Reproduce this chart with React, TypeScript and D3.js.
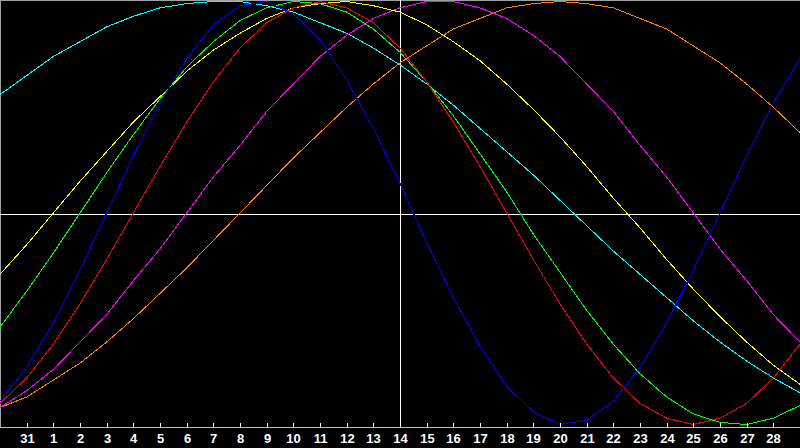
import * as d3 from 'd3';

// ─── Data (one point per day, value −1…1) ───────────────────

const dayLabels = ['31', '1', '2', '3', '4', '5', '6', '7', '8', '9', '10', '11', '12', '13', '14',
  '15', '16', '17', '18', '19', '20', '21', '22', '23', '24', '25', '26', '27', '28'];

const physical = [-0.89, -0.73, -0.52, -0.27, 0.00, 0.27, 0.52, 0.73, 0.89, 0.98, 1.00, 0.94, 0.82, 0.63, 0.40, 0.14,
  -0.14, -0.40, -0.63, -0.82, -0.94, -1.00, -0.98, -0.89, -0.73, -0.52, -0.27, 0.00, 0.27, 0.52, 0.73];
const emotional = [-0.90, -0.78, -0.62, -0.43, -0.22, 0.00, 0.22, 0.43, 0.62, 0.78, 0.90, 0.97, 1.00, 0.97, 0.90, 0.78,
  0.62, 0.43, 0.22, 0.00, -0.22, -0.43, -0.62, -0.78, -0.90, -0.97, -1.00, -0.97, -0.90, -0.78, -0.62];
const intellectual = [-0.54, -0.37, -0.19, 0.00, 0.19, 0.37, 0.54, 0.69, 0.81, 0.91, 0.97, 1.00, 0.99, 0.95, 0.87, 0.76,
  0.62, 0.46, 0.28, 0.10, -0.10, -0.28, -0.46, -0.62, -0.76, -0.87, -0.95, -0.99, -1.00, -0.97, -0.91];
const spiritual = [0.56, 0.65, 0.74, 0.81, 0.88, 0.93, 0.97, 0.99, 1.00, 1.00, 0.98, 0.95, 0.90, 0.85, 0.78, 0.70,
  0.61, 0.51, 0.40, 0.29, 0.18, 0.06, -0.06, -0.18, -0.29, -0.40, -0.51, -0.61, -0.70, -0.78, -0.85];
const aesthetic = [-0.29, -0.15, 0.00, 0.15, 0.29, 0.43, 0.55, 0.67, 0.77, 0.85, 0.92, 0.97, 0.99, 1.00, 0.98, 0.95,
  0.89, 0.81, 0.72, 0.61, 0.49, 0.36, 0.22, 0.07, -0.07, -0.22, -0.36, -0.49, -0.61, -0.72, -0.81];
const intuitive = [-0.92, -0.84, -0.74, -0.61, -0.48, -0.32, -0.17, 0.00, 0.17, 0.32, 0.48, 0.61, 0.74, 0.84, 0.92, 0.97,
  1.00, 1.00, 0.97, 0.92, 0.84, 0.74, 0.61, 0.48, 0.32, 0.17, 0.00, -0.17, -0.32, -0.48, -0.61];
const awareness = [-0.92, -0.87, -0.79, -0.71, -0.61, -0.50, -0.38, -0.26, -0.13, 0.00, 0.13, 0.26, 0.38, 0.50, 0.61, 0.71,
  0.79, 0.87, 0.92, 0.97, 0.99, 1.00, 0.99, 0.97, 0.92, 0.87, 0.79, 0.71, 0.61, 0.50, 0.38];

const todayIndex = 15; // day 14

// drawing order: back to front
const series = [
  { name: 'spiritual', values: spiritual, color: '#00ffff' },
  { name: 'awareness', values: awareness, color: '#ff8000' },
  { name: 'intuitive', values: intuitive, color: '#ff00ff' },
  { name: 'aesthetic', values: aesthetic, color: '#ffff00' },
  { name: 'intellectual', values: intellectual, color: '#00ff00' },
  { name: 'emotional', values: emotional, color: '#ff0000' },
  { name: 'physical', values: physical, color: '#0000ff' },
];

// ─── Component ──────────────────────────────────────────────

const W = 800;
const H = 448;
const AXIS_Y = 427;

export default function App() {
  const x = d3.scaleLinear().domain([0, 30]).range([0, W]);
  const y = d3.scaleLinear().domain([-1, 1]).range([424.5, 1.5]);

  const line = d3.line<number>()
    .x((_, i) => x(i))
    .y((d) => y(d));

  const px = (v: number) => Math.round(v) + 0.5;

  return (
    <>
      <style>{'body{margin:0;background:#000}'}</style>
      <svg width={W} height={H} style={{ display: 'block', background: '#000' }}>
        {/* frame */}
        <line x1={0} x2={W} y1={0.5} y2={0.5} stroke="#a0a0a0" shapeRendering="crispEdges" />
        <line x1={0.5} x2={0.5} y1={0} y2={AXIS_Y} stroke="#a0a0a0" shapeRendering="crispEdges" />

        {/* zero line and today marker */}
        <line x1={0} x2={W} y1={px(y(0)) + 1} y2={px(y(0)) + 1} stroke="#ffffff" shapeRendering="crispEdges" />
        <line x1={px(x(todayIndex))} x2={px(x(todayIndex))} y1={0} y2={AXIS_Y}
          stroke="#ffffff" shapeRendering="crispEdges" />

        {/* curves */}
        {series.map((s) => (
          <path key={s.name} d={line(s.values) ?? ''} fill="none" stroke={s.color}
            strokeWidth={1} shapeRendering="crispEdges" />
        ))}

        {/* axis */}
        <line x1={0} x2={W} y1={AXIS_Y + 0.5} y2={AXIS_Y + 0.5} stroke="#c0c0c0" shapeRendering="crispEdges" />
        {dayLabels.map((lab, i) => {
          const tx = px(x(i + 1));
          return (
            <g key={lab + i}>
              <line x1={tx} x2={tx} y1={AXIS_Y - 4} y2={AXIS_Y} stroke="#ffffff" shapeRendering="crispEdges" />
              <text x={tx} y={443} fill="#ffffff" fontFamily="'Liberation Sans', Arial, sans-serif"
                fontWeight="bold" fontSize={13} textAnchor="middle">
                {lab}
              </text>
            </g>
          );
        })}
      </svg>
    </>
  );
}
